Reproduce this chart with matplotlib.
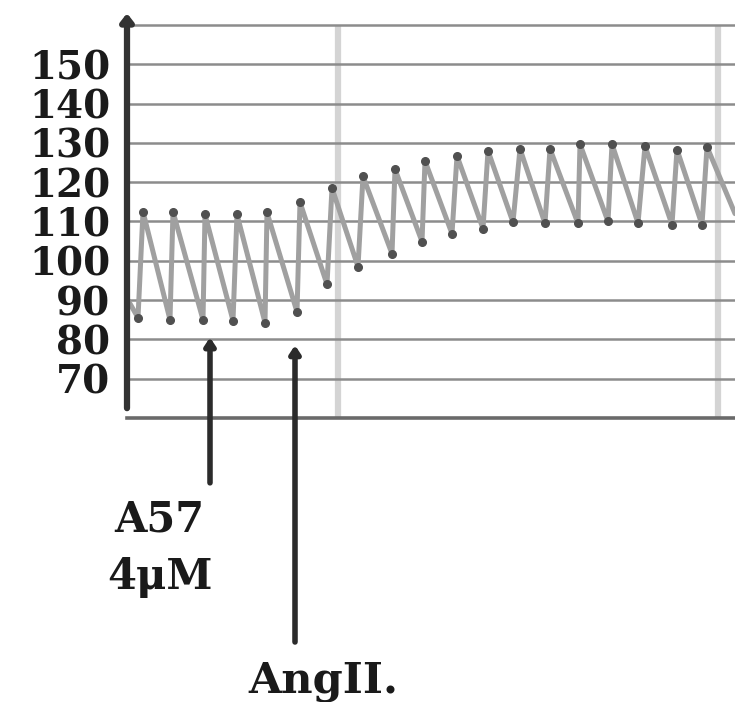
import matplotlib
matplotlib.use("Agg")
import matplotlib.pyplot as plt
import numpy as np

# ---- data (time in s, pressure in mmHg) ----
start_time, start_value = 0.1, 90.0
trough_times = [1.1, 4.3, 7.6, 10.6, 13.8, 17.0, 20.0, 23.1, 26.5, 29.5, 32.5,
                35.6, 38.6, 41.8, 45.1, 48.1, 51.1, 54.5, 57.5]
trough_values = [85.5, 85.0, 85.0, 84.8, 84.3, 87.0, 94.0, 98.5, 101.8, 104.9, 106.9,
                 108.2, 109.8, 109.5, 109.5, 110.0, 109.6, 109.2, 109.2]
peak_times = [1.6, 4.6, 7.8, 11.0, 14.0, 17.3, 20.5, 23.6, 26.8, 29.8, 33.0,
              36.1, 39.3, 42.3, 45.3, 48.5, 51.8, 55.0, 58.0]
peak_values = [112.5, 112.5, 111.8, 111.8, 112.3, 114.9, 118.5, 121.5, 123.3, 125.4, 126.7,
               128.0, 128.5, 128.5, 129.7, 129.7, 129.2, 128.3, 129.0]
end_time, end_value = 60.8, 112.0

y_ticks = [70, 80, 90, 100, 110, 120, 130, 140, 150]
grid_values = [60, 70, 80, 90, 100, 110, 120, 130, 140, 150, 160]
vgrid_times = [21.1, 59.1]
events = ["A57\n4\u03bcM", "AngII."]
event_times = [8.3, 16.8]

# ---- build trace ----
t = [start_time]
v = [start_value]
for tt, tv, pt, pv in zip(trough_times, trough_values, peak_times, peak_values):
    t += [tt, pt]
    v += [tv, pv]
t.append(end_time)
v.append(end_value)

W, H = 735, 702
fig = plt.figure(figsize=(W / 100, H / 100), dpi=100)
fig.patch.set_facecolor("white")
ax = fig.add_axes([127 / W, (H - 418) / H, (W - 127) / W, (418 - 25) / H])
ax.set_xlim(0, 60.8)
ax.set_ylim(60, 160)
for s in ax.spines.values():
    s.set_visible(False)
ax.set_xticks([])

# gridlines
for g in grid_values:
    if g == 60:
        ax.axhline(g, color="#6a6a6a", lw=2.6, zorder=1, clip_on=False)
    else:
        ax.axhline(g, color="#8c8c8c", lw=1.8, zorder=1, clip_on=False)
for vt in vgrid_times:
    ax.axvline(vt, color="#d4d4d4", lw=4.5, zorder=0.5)

# trace
ax.plot(t, v, color="#a0a0a0", lw=3.6, zorder=3, solid_joinstyle="round",
        solid_capstyle="round")
ax.plot(trough_times, trough_values, "o", color="#505050", ms=5.5, zorder=4)
ax.plot(peak_times, peak_values, "o", color="#505050", ms=5.5, zorder=4)

# y axis with arrow
ax.annotate("", xy=(0, 163), xytext=(0, 62.5), xycoords="data",
            arrowprops=dict(arrowstyle="-|>,head_length=0.45,head_width=0.35",
                            color="#333333", lw=4.5, shrinkA=0, shrinkB=0),
            annotation_clip=False, zorder=5)

ax.set_yticks(y_ticks)
ax.set_yticklabels([str(y) for y in y_ticks], fontfamily="DejaVu Serif",
                   fontweight="bold", fontsize=28, color="#1a1a1a")
ax.tick_params(axis="y", length=0, pad=12)

# event arrows
tails = [43.5, 3.0]
tips = [80.5, 78.5]
for et, tail, tip in zip(event_times, tails, tips):
    ax.annotate("", xy=(et, tip), xytext=(et, tail), xycoords="data",
                arrowprops=dict(arrowstyle="-|>,head_length=0.45,head_width=0.3",
                                color="#2b2b2b", lw=4, shrinkA=0, shrinkB=0),
                annotation_clip=False, zorder=5)

fig.text(159 / W, 1 - 520 / H, "A57", ha="center", va="center",
         fontfamily="DejaVu Serif", fontweight="bold", fontsize=30, color="#1a1a1a")
fig.text(160 / W, 1 - 577 / H, "4\u03bcM", ha="center", va="center",
         fontfamily="DejaVu Serif", fontweight="bold", fontsize=30, color="#1a1a1a")
fig.text(323 / W, 1 - 681 / H, events[1], ha="center", va="center",
         fontfamily="DejaVu Serif", fontweight="bold", fontsize=31, color="#1a1a1a")

fig.savefig("out.png", dpi=100, facecolor="white")
